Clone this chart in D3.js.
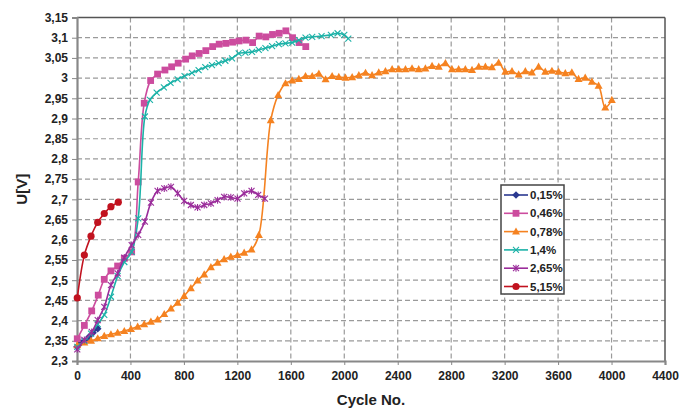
<!DOCTYPE html>
<html>
<head>
<meta charset="utf-8">
<script src="https://cdn.jsdelivr.net/npm/d3@7"></script>
<style>
  body { margin: 0; background: #fff; }
  svg { display: block; font-family: "Liberation Sans", Arial, sans-serif; }
  .tick-label { font-size: 12px; font-weight: bold; fill: #222; }
  .axis-title { font-size: 15px; font-weight: bold; fill: #222; }
  .legend-text { font-size: 11.5px; font-weight: bold; fill: #222; }
</style>
</head>
<body>
<svg id="chart"></svg>
<script>
// Cell voltage vs cycle number, six series

const width = 694;
const height = 412;

// ---- data ----
const seriesNames = ["0,15%", "0,46%", "0,78%", "1,4%", "2,65%", "5,15%"];

const s015 = [[0, 2.335], [30, 2.345], [60, 2.35], [90, 2.36], [120, 2.37], [155, 2.38]];

const s046 = [
  [2, 2.355], [55, 2.388], [110, 2.424], [159, 2.463], [204, 2.502], [254, 2.523],
  [304, 2.535], [354, 2.554], [409, 2.57], [458, 2.743], [503, 2.938], [551, 2.994],
  [603, 3.01], [658, 3.02], [708, 3.028], [757, 3.037], [813, 3.047], [862, 3.055],
  [914, 3.061], [964, 3.068], [1015, 3.078], [1064, 3.084], [1114, 3.086], [1164, 3.089],
  [1213, 3.092], [1264, 3.094], [1314, 3.088], [1363, 3.104], [1413, 3.102], [1463, 3.108],
  [1513, 3.111], [1563, 3.117], [1613, 3.1], [1662, 3.088], [1712, 3.078]
];

const s078 = [
  [2, 2.339], [55, 2.346], [105, 2.35], [155, 2.356], [204, 2.362], [254, 2.366],
  [304, 2.37], [354, 2.374], [404, 2.379], [454, 2.385], [503, 2.391], [553, 2.397],
  [603, 2.403], [653, 2.416], [703, 2.43], [753, 2.444], [802, 2.461], [852, 2.48],
  [902, 2.499], [952, 2.514], [1002, 2.532], [1052, 2.543], [1101, 2.552], [1151, 2.558],
  [1201, 2.562], [1251, 2.568], [1306, 2.576], [1361, 2.612], [1450, 2.896], [1505, 2.958],
  [1560, 2.987], [1610, 2.994], [1660, 2.998], [1710, 3.005], [1760, 3.005], [1810, 3.011],
  [1860, 2.997], [1909, 3.005], [1959, 3.003], [2009, 3.001], [2059, 3.002], [2109, 3.007],
  [2159, 3.013], [2208, 3.007], [2258, 3.014], [2308, 3.017], [2358, 3.022], [2408, 3.022],
  [2458, 3.022], [2507, 3.024], [2557, 3.022], [2607, 3.024], [2657, 3.03], [2707, 3.028],
  [2757, 3.037], [2806, 3.022], [2856, 3.022], [2906, 3.022], [2956, 3.02], [3006, 3.028],
  [3056, 3.028], [3105, 3.027], [3155, 3.038], [3205, 3.016], [3255, 3.017], [3305, 3.009],
  [3355, 3.017], [3404, 3.014], [3454, 3.028], [3504, 3.016], [3554, 3.018], [3604, 3.016],
  [3654, 3.012], [3703, 3.014], [3753, 2.998], [3803, 3.001], [3853, 2.991], [3903, 2.981],
  [3953, 2.927], [4002, 2.946]
];

const s14 = [
  [2, 2.335], [55, 2.35], [105, 2.368], [155, 2.391], [204, 2.414], [254, 2.459],
  [304, 2.51], [354, 2.545], [409, 2.57], [458, 2.653], [508, 2.905], [546, 2.946],
  [596, 2.964], [650, 2.977], [700, 2.988], [753, 2.997], [805, 3.005], [860, 3.013],
  [910, 3.02], [960, 3.027], [1010, 3.032], [1060, 3.037], [1110, 3.043], [1160, 3.049],
  [1210, 3.061], [1260, 3.063], [1310, 3.065], [1360, 3.07], [1410, 3.074], [1460, 3.079],
  [1510, 3.084], [1560, 3.086], [1610, 3.088], [1660, 3.094], [1710, 3.1], [1760, 3.102],
  [1830, 3.104], [1900, 3.107], [1950, 3.111], [2000, 3.107], [2030, 3.098]
];

const s265 = [
  [2, 2.329], [55, 2.352], [110, 2.372], [155, 2.401], [204, 2.434], [254, 2.488],
  [304, 2.517], [354, 2.556], [409, 2.587], [458, 2.612], [508, 2.645], [553, 2.692],
  [603, 2.721], [653, 2.727], [703, 2.731], [753, 2.715], [802, 2.696], [852, 2.686],
  [902, 2.68], [952, 2.686], [1002, 2.69], [1052, 2.698], [1101, 2.706], [1151, 2.705],
  [1201, 2.702], [1251, 2.715], [1306, 2.721], [1356, 2.711], [1406, 2.702]
];

const s515 = [[2, 2.456], [55, 2.562], [105, 2.609], [155, 2.643], [204, 2.665], [254, 2.682], [309, 2.693]];

const xTicks = d3.range(0, 4401, 400);
const yTicks = d3.range(0, 18).map((i) => +(2.3 + i * 0.05).toFixed(2));

const allSeries = [s015, s046, s078, s14, s265, s515];
const colors = ["#2b3990", "#cc4c9e", "#f58220", "#1cb2a8", "#9b2d9b", "#c1121f"];
const markers = ["diamond", "square", "triangle", "x", "asterisk", "circle"];

// ---- layout ----
const plot = { left: 77, right: 665, top: 17.5, bottom: 361 };

const svg = d3.select("#chart").attr("width", width).attr("height", height);

const x = d3.scaleLinear().domain([0, 4400]).range([plot.left, plot.right]);
const y = d3.scaleLinear().domain([2.3, 3.15]).range([plot.bottom, plot.top]);

// grid
const grid = svg.append("g").attr("stroke", "#9a9a9a").attr("stroke-width", 1.2).attr("stroke-dasharray", "5,3");
grid.selectAll(".gx")
  .data(xTicks.slice(1, -1))
  .enter()
  .append("line")
  .attr("x1", (d) => x(d)).attr("x2", (d) => x(d))
  .attr("y1", plot.top).attr("y2", plot.bottom);
grid.selectAll(".gy")
  .data(yTicks.slice(1, -1))
  .enter()
  .append("line")
  .attr("y1", (d) => y(d)).attr("y2", (d) => y(d))
  .attr("x1", plot.left).attr("x2", plot.right);

// frame
svg.append("line").attr("x1", plot.left).attr("x2", plot.right).attr("y1", plot.top).attr("y2", plot.top)
  .attr("stroke", "#555").attr("stroke-width", 1.5);
svg.append("line").attr("x1", plot.right).attr("x2", plot.right).attr("y1", plot.top).attr("y2", plot.bottom)
  .attr("stroke", "#555").attr("stroke-width", 1.5);

// axes
const yAxis = d3.axisLeft(y).tickValues(yTicks).tickSize(5).tickPadding(4)
  .tickFormat((d) => String(d).replace(".", ","));
const xAxis = d3.axisBottom(x).tickValues(xTicks).tickSize(4).tickPadding(6).tickFormat(d3.format("d"));

const gy = svg.append("g").attr("transform", `translate(${plot.left},0)`).call(yAxis);
const gx = svg.append("g").attr("transform", `translate(0,${plot.bottom})`).call(xAxis);
[gx, gy].forEach((g) => {
  g.select(".domain").attr("stroke", "#888").attr("stroke-width", 2.2);
  g.selectAll(".tick line").attr("stroke", "#888").attr("stroke-width", 1);
  g.selectAll(".tick text").attr("class", "tick-label").attr("fill", "#222").attr("font-family", null).attr("font-size", null);
});

// titles
svg.append("text").attr("class", "axis-title")
  .attr("transform", `translate(27,${(plot.top + plot.bottom) / 2}) rotate(-90)`)
  .attr("text-anchor", "middle").text("U[V]");
svg.append("text").attr("class", "axis-title")
  .attr("x", (plot.left + plot.right) / 2).attr("y", 405)
  .attr("text-anchor", "middle").text("Cycle No.");

// marker drawing
function drawMarker(g, type, color, cx, cy) {
  if (type === "diamond") {
    g.append("path").attr("d", `M${cx},${cy - 3.8}L${cx + 3.8},${cy}L${cx},${cy + 3.8}L${cx - 3.8},${cy}Z`).attr("fill", color);
  } else if (type === "square") {
    g.append("rect").attr("x", cx - 3.4).attr("y", cy - 3.4).attr("width", 6.8).attr("height", 6.8).attr("fill", color);
  } else if (type === "triangle") {
    g.append("path").attr("d", `M${cx},${cy - 4.2}L${cx + 4},${cy + 3}L${cx - 4},${cy + 3}Z`).attr("fill", color);
  } else if (type === "x") {
    g.append("path").attr("d", `M${cx - 3},${cy - 3}L${cx + 3},${cy + 3}M${cx - 3},${cy + 3}L${cx + 3},${cy - 3}`)
      .attr("stroke", color).attr("stroke-width", 1.1);
  } else if (type === "asterisk") {
    g.append("path").attr("d", `M${cx - 3},${cy - 3}L${cx + 3},${cy + 3}M${cx - 3},${cy + 3}L${cx + 3},${cy - 3}M${cx},${cy - 3.5}L${cx},${cy + 3.5}`)
      .attr("stroke", color).attr("stroke-width", 1.1);
  } else {
    g.append("circle").attr("cx", cx).attr("cy", cy).attr("r", 3.6).attr("fill", color);
  }
}

const line = d3.line().x((d) => x(d[0])).y((d) => y(d[1])).curve(d3.curveCatmullRom.alpha(0.5));

allSeries.forEach((data, i) => {
  const g = svg.append("g");
  g.append("path").attr("d", line(data)).attr("fill", "none")
    .attr("stroke", colors[i]).attr("stroke-width", 1.6);
  data.forEach((d) => drawMarker(g, markers[i], colors[i], x(d[0]), y(d[1])));
});

// legend
const legend = svg.append("g");
legend.append("rect").attr("x", 501).attr("y", 185).attr("width", 63).attr("height", 109)
  .attr("fill", "#fff").attr("stroke", "#444").attr("stroke-width", 1.5);
seriesNames.forEach((name, i) => {
  const ly = 195 + i * 18.3;
  legend.append("line").attr("x1", 504).attr("x2", 528).attr("y1", ly).attr("y2", ly)
    .attr("stroke", colors[i]).attr("stroke-width", 1.6);
  drawMarker(legend, markers[i], colors[i], 516, ly);
  legend.append("text").attr("class", "legend-text").attr("x", 530).attr("y", ly + 4).text(name);
});
</script>
</body>
</html>
